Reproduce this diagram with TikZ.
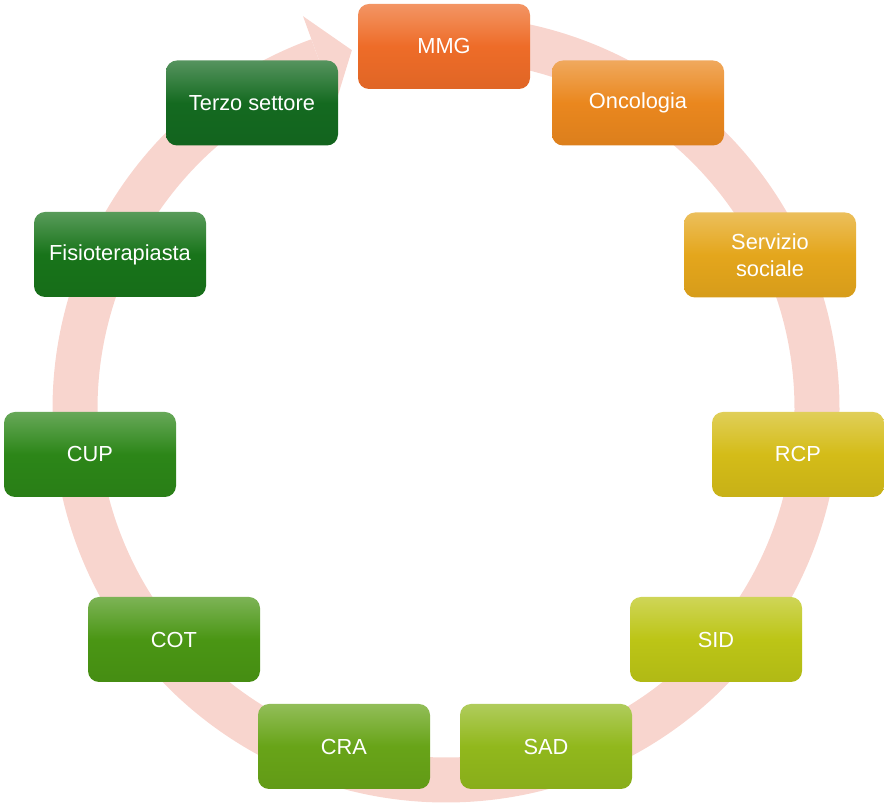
\documentclass[tikz,border=0pt]{standalone}
\usepackage{fontspec}
\setmainfont{Liberation Sans}
\usetikzlibrary{calc}
\definecolor{ringc}{RGB}{248,213,206}
\definecolor{cMMG}{RGB}{238,108,40}
\definecolor{cONC}{RGB}{234,135,30}
\definecolor{cSER}{RGB}{228,166,28}
\definecolor{cRCP}{RGB}{212,188,24}
\definecolor{cSID}{RGB}{188,197,22}
\definecolor{cSAD}{RGB}{145,184,28}
\definecolor{cCRA}{RGB}{104,164,24}
\definecolor{cCOT}{RGB}{74,150,20}
\definecolor{cCUP}{RGB}{44,134,24}
\definecolor{cFIS}{RGB}{24,116,26}
\definecolor{cTER}{RGB}{20,106,32}
\tikzset{
  box/.style={rounded corners=11pt, minimum width=172pt, minimum height=85pt,
    inner sep=0pt, outer sep=0pt, align=center, text=white,
    font=\fontsize{21.8}{26.5}\selectfont,
    top color=#1!72!white, bottom color=#1!94!black, middle color=#1},
  ring/.style={draw=ringc, line width=45pt},
  ringhead/.style={fill=ringc}
}
\begin{document}
\begin{tikzpicture}[x=1pt,y=1pt]
\useasboundingbox (0,0) rectangle (884,803);
\coordinate (C) at (446,394);
% circular arrow
\draw[ring] ($(C)+(90:371)$) arc[start angle=90, end angle=-250, radius=371];
\coordinate (hin) at ($(C)+(110:324)$);
\coordinate (hout) at ($(C)+(110:418)$);
\coordinate (htip) at ($(C)+(104.7:371)$);
\fill[ringhead] (hin) -- (hout) -- (htip) -- cycle;
% boxes
\node[box=cMMG] (mmg) at (444,756.5) {MMG};
\node[box=cONC] (onc) at (638,700) {Oncologia};
\node[box=cSER] (ser) at (770,548) {Servizio\\sociale};
\node[box=cRCP] (rcp) at (798,348.5) {RCP};
\node[box=cSID] (sid) at (716,163.5) {SID};
\node[box=cSAD] (sad) at (546,56.5) {SAD};
\node[box=cCRA] (cra) at (344,56.5) {CRA};
\node[box=cCOT] (cot) at (174,163.5) {COT};
\node[box=cCUP] (cup) at (90,348.5) {CUP};
\node[box=cFIS] (fis) at (120,548.5) {Fisioterapiasta};
\node[box=cTER] (ter) at (252,700) {Terzo settore};
\end{tikzpicture}
\end{document}
